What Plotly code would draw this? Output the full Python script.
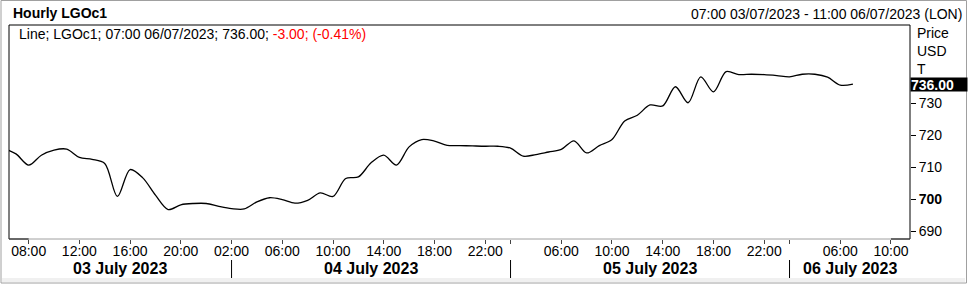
import plotly.graph_objects as go

# ---------------- data ----------------
# trading sessions (day of July 2023, first hour, last hour on axis)
sessions = [(3, 6, 22), (4, 1, 22), (5, 1, 22), (6, 1, 11)]
slots = [f"{d:02d}/07 {h:02d}:00" for d, a, b in sessions for h in range(a, b + 1)]

# hourly LGOc1 close, from 03/07 06:00 to 06/07 07:00
price = [
    716.0,                                                     # 03/07 06:00
    714.2, 710.7, 713.8, 715.4, 715.7, 713.1, 712.5, 711.2,    # 07-14
    700.9, 709.3, 706.7, 701.3, 696.8, 698.3, 698.7, 698.7,    # 15-22
    697.8, 697.1, 697.0, 699.2, 700.5, 699.9, 698.8, 699.7,    # 04/07 01-08
    702.0, 700.9, 706.5, 707.0, 711.4, 713.8, 710.7, 716.4,    # 09-16
    718.7, 718.2, 716.9, 716.8, 716.7, 716.6,                  # 17-22
    716.6, 716.0, 713.5, 714.0, 714.8, 715.6, 718.3, 714.5,    # 05/07 01-08
    716.8, 718.7, 724.5, 726.3, 729.5, 729.2, 735.2, 730.2,    # 09-16
    738.3, 733.6, 739.9, 739.0, 739.1, 739.0,                  # 17-22
    738.7, 738.3, 739.1, 739.1, 738.2, 735.7, 736.0,           # 06/07 01-07
]

tick_times = ["03/07 08:00", "03/07 12:00", "03/07 16:00", "03/07 20:00",
              "04/07 02:00", "04/07 06:00", "04/07 10:00", "04/07 14:00",
              "04/07 18:00", "04/07 22:00", "05/07 02:00", "05/07 06:00",
              "05/07 10:00", "05/07 14:00", "05/07 18:00", "05/07 22:00",
              "06/07 02:00", "06/07 06:00", "06/07 10:00"]
tick_text = ["08:00", "12:00", "16:00", "20:00", "02:00", "06:00", "10:00",
             "14:00", "18:00", "22:00", "", "06:00", "10:00", "14:00",
             "18:00", "22:00", "", "06:00", "10:00"]

day_breaks = ["04/07 02:00", "05/07 02:00", "06/07 02:00"]
day_labels = ["03 July 2023", "04 July 2023", "05 July 2023", "06 July 2023"]

y_ticks = [690, 700, 710, 720, 730]
y_tick_text = ["690", "<b>700</b>", "710", "720", "730"]

change = -3.00
change_pct = -0.41
last_time = "07:00 06/07/2023"
range_text = "07:00 03/07/2023 - 11:00 06/07/2023 (LON)"

# ---------------- layout helpers ----------------
W, H = 969, 285
L, R, T, B = 9, 59, 25, 46
PW, PH = W - L - R, H - T - B
origin = slots.index("03/07 07:00")


def pos(t):
    return slots.index(t) - origin


x_vals = [pos(t) for t in slots[:len(price)]]
x0 = pos("03/07 07:00") - 0.55
x1 = pos("06/07 11:00") + 0.5
y0, y1 = 687.6, 754.5


def PX(px):
    return (px - L) / PW


def PY(py):
    return (H - B - py) / PH


def XP(idx):
    return (idx - x0) / (x1 - x0)


FONT = "Arial, Liberation Sans, sans-serif"

fig = go.Figure()
fig.add_trace(go.Scatter(
    x=x_vals, y=price, mode="lines",
    line=dict(color="black", width=1.3, shape="spline", smoothing=0.9),
    hoverinfo="skip", showlegend=False, cliponaxis=True,
))

shapes = []
# outer frame and bottom band
shapes.append(dict(type="rect", xref="paper", yref="paper",
                   x0=PX(2), x1=PX(965), y0=PY(282), y1=PY(278),
                   fillcolor="#f0f0f0", line=dict(width=0), layer="below"))
shapes.append(dict(type="rect", xref="paper", yref="paper",
                   x0=PX(1), x1=PX(966.5), y0=PY(283), y1=PY(0.5),
                   line=dict(color="#a0a0a0", width=1), fillcolor="rgba(0,0,0,0)"))
# plot frame
for xa, xb, ya, yb, col in [
    (0, 0, 0, 1, "black"), (0, 1, 1, 1, "black"), (1, 1, 0, 1, "black"),
    (0, 1, 0, 0, "#a0a0a0"),
    (0, XP(pos(tick_times[0])), 0, 0, "black"),
    (XP(pos(tick_times[-1])), 1, 0, 0, "black"),
]:
    shapes.append(dict(type="line", xref="paper", yref="paper",
                       x0=xa, x1=xb, y0=ya, y1=yb, line=dict(color=col, width=1)))
# day separators
for t in day_breaks:
    xp = XP(pos(t))
    shapes.append(dict(type="line", xref="paper", yref="paper",
                       x0=xp, x1=xp, y0=PY(260), y1=PY(278),
                       line=dict(color="black", width=1)))

annotations = []
# day labels centred between separators
edges = [x0] + [pos(t) for t in day_breaks] + [x1]
for i, lab in enumerate(day_labels):
    annotations.append(dict(x=(edges[i] + edges[i + 1]) / 2, y=PY(268),
                            xref="x", yref="paper", text=f"<b>{lab}</b>",
                            showarrow=False, xanchor="center", yanchor="middle",
                            font=dict(family=FONT, size=16, color="black")))
# title and header
annotations.append(dict(x=PX(11), y=PY(13), xref="paper", yref="paper",
                        text="<b>Hourly LGOc1</b>", showarrow=False,
                        xanchor="left", yanchor="middle",
                        font=dict(family=FONT, size=14, color="black")))
annotations.append(dict(x=PX(964), y=PY(14), xref="paper", yref="paper",
                        text=range_text, showarrow=False,
                        xanchor="right", yanchor="middle",
                        font=dict(family=FONT, size=14, color="black")))
# info line
info = (f"Line; LGOc1; {last_time}; {price[-1]:.2f}; "
        f"<span style='color:#ff0000'>{change:.2f}; ({change_pct:.2f}%)</span>")
annotations.append(dict(x=PX(17), y=PY(34), xref="paper", yref="paper",
                        text=info, showarrow=False, xanchor="left", yanchor="middle",
                        font=dict(family=FONT, size=14, color="black")))
# unit labels
for txt, py in [("Price", 33), ("USD", 51), ("T", 69)]:
    annotations.append(dict(x=PX(915), y=PY(py), xref="paper", yref="paper",
                            text=txt, showarrow=False, xanchor="left",
                            yanchor="middle",
                            font=dict(family=FONT, size=14, color="black")))
# last value box
annotations.append(dict(x=1, y=price[-1], xref="paper", yref="y",
                        text=f"<b>{price[-1]:.2f}</b>", showarrow=False,
                        xanchor="left", yanchor="middle", bgcolor="black",
                        width=56, height=13, borderpad=0, align="left",
                        font=dict(family=FONT, size=14, color="white")))

fig.update_layout(
    width=W, height=H,
    margin=dict(l=L, r=R, t=T, b=B, pad=0),
    paper_bgcolor="white", plot_bgcolor="white",
    shapes=shapes, annotations=annotations,
    xaxis=dict(range=[x0, x1], tickmode="array",
               tickvals=[pos(t) for t in tick_times], ticktext=tick_text,
               ticks="outside", ticklen=4, tickcolor="#444", tickwidth=1,
               ticklabelstandoff=-5,
               showgrid=False, zeroline=False, showline=False,
               tickfont=dict(family=FONT, size=14, color="black")),
    yaxis=dict(range=[y0, y1], side="right", tickmode="array",
               tickvals=y_ticks, ticktext=y_tick_text,
               ticks="outside", ticklen=5, tickcolor="black", tickwidth=1,
               showgrid=False, zeroline=False, showline=False,
               tickfont=dict(family=FONT, size=14, color="black")),
)

fig.write_html("out.html")
